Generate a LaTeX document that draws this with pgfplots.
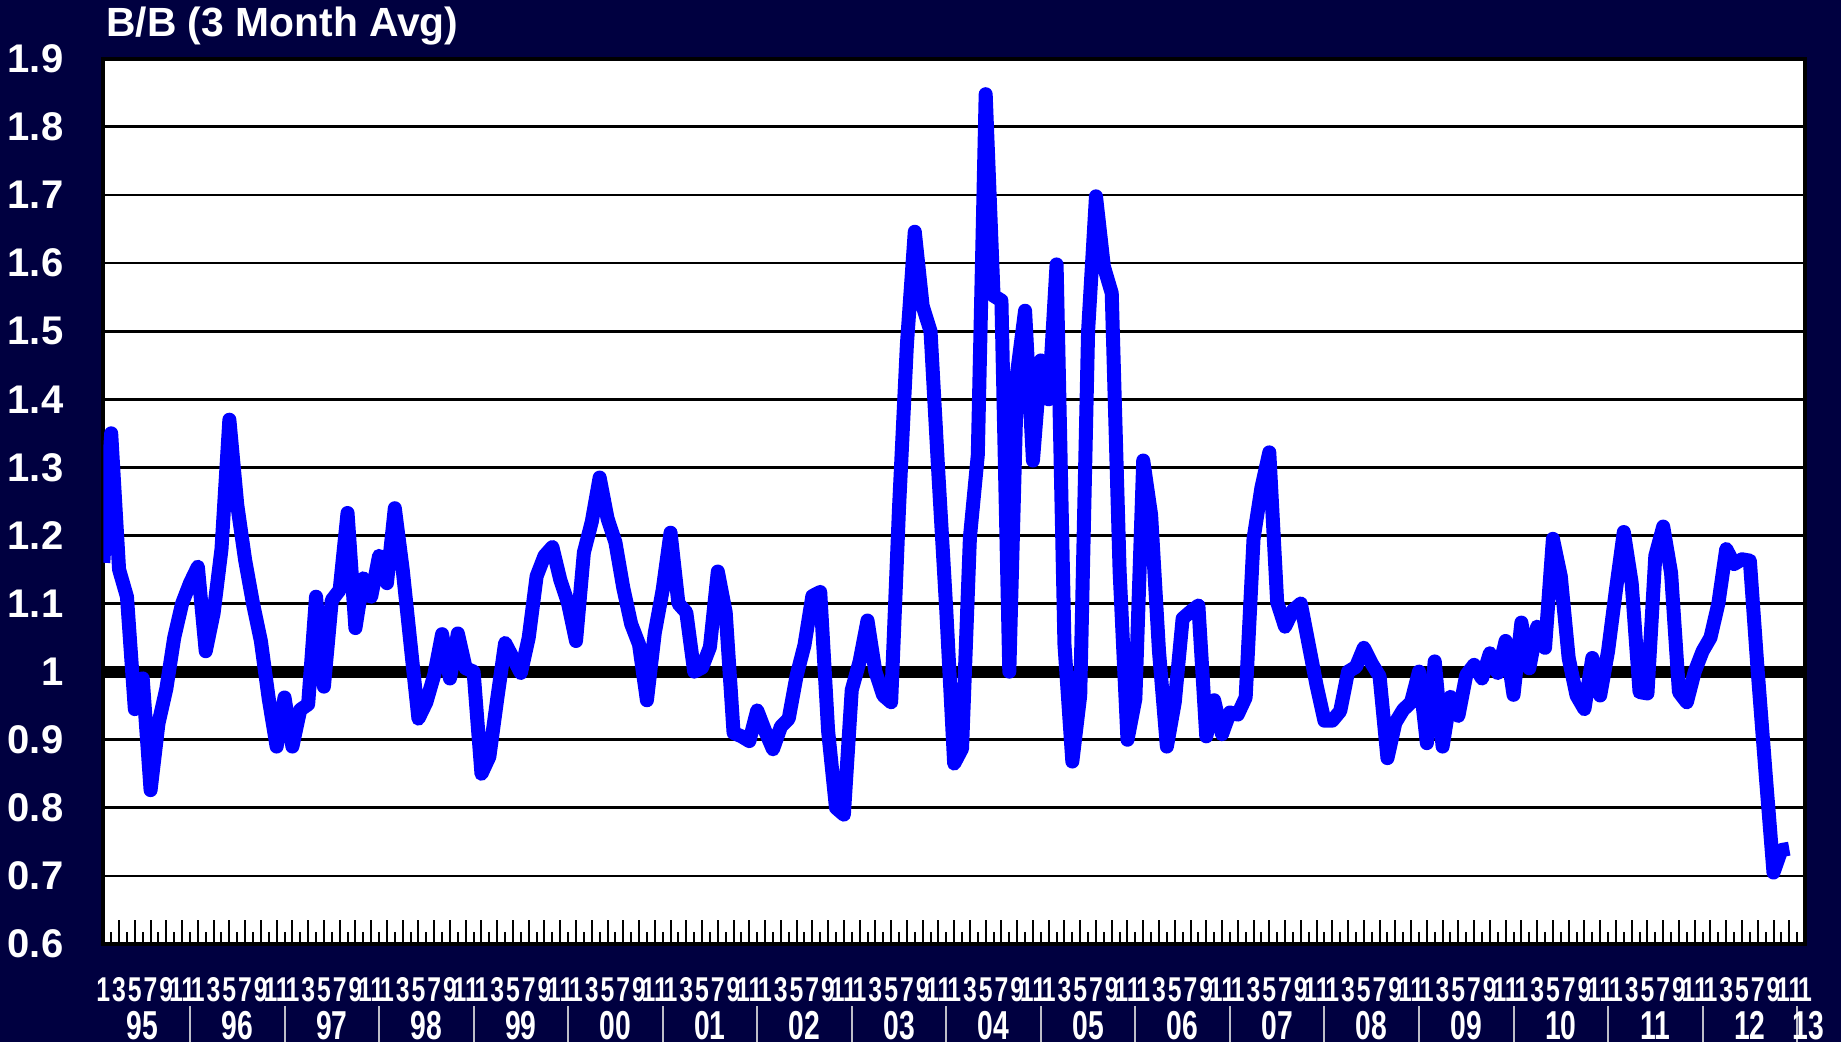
\documentclass[border=0pt]{standalone}
\usepackage{fontspec}
\setmainfont{Liberation Sans}
\newfontfamily\monthfont[FakeStretch=0.72]{Liberation Sans}
\newfontfamily\yearfont[FakeStretch=0.7]{Liberation Sans}
\usepackage{pgfplots}
\pgfplotsset{compat=1.18}
\usepackage{pgfplotstable}
\definecolor{navybg}{RGB}{0,0,64}
\definecolor{lineblue}{RGB}{0,0,255}
\definecolor{sepgray}{RGB}{190,190,200}

% monthly B/B ratio, index 0 = Jan 1995
\pgfplotstableread{
m v
0 1.16
1 1.35
2 1.15
3 1.11
4 0.945
5 0.99
6 0.826
7 0.924
8 0.975
9 1.05
10 1.10
11 1.13
12 1.154
13 1.03
14 1.086
15 1.18
16 1.37
17 1.245
18 1.164
19 1.10
20 1.045
21 0.96
22 0.89
23 0.962
24 0.89
25 0.944
26 0.952
27 1.11
28 0.978
29 1.105
30 1.12
31 1.233
32 1.064
33 1.137
34 1.11
35 1.17
36 1.13
37 1.24
38 1.15
39 1.04
40 0.931
41 0.955
42 0.995
43 1.055
44 0.99
45 1.056
46 1.005
47 1.0
48 0.85
49 0.875
50 0.96
51 1.042
52 1.02
53 0.998
54 1.05
55 1.14
56 1.17
57 1.183
58 1.135
59 1.10
60 1.045
61 1.175
62 1.22
63 1.285
64 1.225
65 1.19
66 1.123
67 1.07
68 1.04
69 0.958
70 1.057
71 1.12
72 1.204
73 1.10
74 1.087
75 1.0
76 1.006
77 1.036
78 1.147
79 1.087
80 0.91
81 0.905
82 0.898
83 0.943
84 0.913
85 0.886
86 0.919
87 0.931
88 0.994
89 1.039
90 1.111
91 1.117
92 0.913
93 0.80
94 0.79
95 0.973
96 1.015
97 1.075
98 1.0
99 0.965
100 0.955
101 1.24
102 1.48
103 1.646
104 1.537
105 1.50
106 1.29
107 1.09
108 0.865
109 0.887
110 1.197
111 1.318
112 1.848
113 1.552
114 1.545
115 1.0
116 1.44
117 1.53
118 1.31
119 1.457
120 1.40
121 1.598
122 1.04
123 0.868
124 0.965
125 1.50
126 1.698
127 1.595
128 1.556
129 1.148
130 0.90
131 0.96
132 1.31
133 1.23
134 1.03
135 0.89
136 0.955
137 1.078
138 1.088
139 1.097
140 0.905
141 0.958
142 0.908
143 0.94
144 0.937
145 0.962
146 1.195
147 1.27
148 1.322
149 1.102
150 1.066
151 1.09
152 1.10
153 1.04
154 0.98
155 0.928
156 0.928
157 0.942
158 1.0
159 1.007
160 1.035
161 1.012
162 0.993
163 0.873
164 0.925
165 0.944
166 0.955
167 1.0
168 0.895
169 1.015
170 0.89
171 0.963
172 0.935
173 0.995
174 1.01
175 0.99
176 1.027
177 0.998
178 1.045
179 0.966
180 1.072
181 1.005
182 1.066
183 1.035
184 1.195
185 1.14
186 1.02
187 0.965
188 0.945
189 1.02
190 0.965
191 1.03
192 1.12
193 1.205
194 1.13
195 0.97
196 0.968
197 1.17
198 1.213
199 1.145
200 0.97
201 0.955
202 1.0
203 1.03
204 1.05
205 1.10
206 1.18
207 1.158
208 1.165
209 1.163
210 1.0
211 0.85
212 0.705
213 0.738
214 0.74
}\bbdata

\begin{document}
\begin{tikzpicture}[x=1pt,y=1pt]
\useasboundingbox (0,0) rectangle (460.25,260.5);
\fill[navybg] (0,0) rectangle (460.25,260.5);
\node[anchor=base west, inner sep=0pt, text=white, font=\bfseries\fontsize{10.2}{12}\selectfont]
  at (26.4,251.4) {B/B (3 Month Avg)};
\begin{axis}[
  at={(25.83pt,24.5pt)}, anchor=south west,
  scale only axis, width=425.42pt, height=221.3pt,
  xmin=0, xmax=216, ymin=0.6, ymax=1.9,
  axis background/.style={fill=white},
  axis line style={black, line width=1pt},
  ytick={0.6,0.7,...,1.9},
  yticklabels={0.6,0.7,0.8,0.9,1,1.1,1.2,1.3,1.4,1.5,1.6,1.7,1.8,1.9},
  ytick style={draw=none},
  ymajorgrids=true,
  major grid style={black, line width=0.7pt},
  yticklabel style={text=white, font=\bfseries\fontsize{10}{12}\selectfont,
    anchor=east, inner sep=0pt, xshift=-9.8pt},
  xtick={0,2,...,216},
  minor xtick={1,3,...,215},
  xtick pos=left,
  tick align=inside,
  major tick length=6pt, minor tick length=3pt,
  xtick style={black, line width=0.5pt},
  every minor tick/.style={black, line width=0.5pt},
  xticklabel={\pgfmathtruncatemacro\mm{mod(round(\tick),12)+1}\mm},
  xticklabel style={text=white, font=\monthfont\bfseries\fontsize{8.6}{10}\selectfont,
    anchor=base, inner sep=0pt, yshift=-14.4pt},
]
\addplot[black, line width=3pt, forget plot] coordinates {(0,1) (216,1)};
\addplot[lineblue, line width=3.5pt, line join=round, mark=none] table[x=m, y=v] {\bbdata};
\end{axis}
\foreach \k in {1,...,18}
  \draw[sepgray, line width=0.5pt] ({25.83+1.96954*(12*\k-1)},0) -- ++(0,9);
\foreach \k/\yr in {0/95,1/96,2/97,3/98,4/99,5/00,6/01,7/02,8/03,9/04,10/05,11/06,12/07,13/08,14/09,15/10,16/11,17/12}
  \node[anchor=base, inner sep=0pt, text=white, font=\yearfont\bfseries\fontsize{10.1}{12}\selectfont]
    at ({25.83+1.96954*(12*\k+5)},0.75) {\yr};
\node[anchor=base, inner sep=0pt, text=white, font=\yearfont\bfseries\fontsize{10.1}{12}\selectfont]
  at (452,0.75) {13};
\end{tikzpicture}
\end{document}
